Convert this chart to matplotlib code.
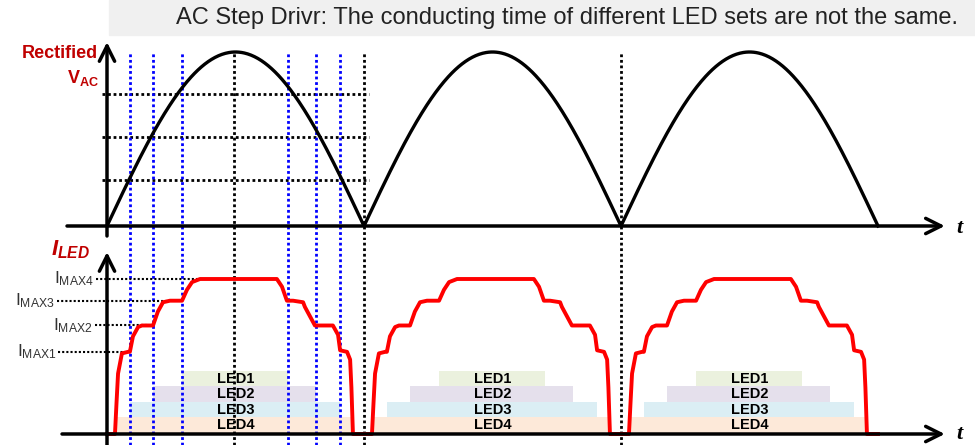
import numpy as np
import matplotlib.pyplot as plt
from matplotlib.patches import Rectangle

plt.rcParams['font.family'] = ['Liberation Sans', 'DejaVu Sans']
plt.rcParams['mathtext.fontset'] = 'custom'
plt.rcParams['mathtext.rm'] = 'Liberation Sans'
plt.rcParams['mathtext.bf'] = 'Liberation Sans:bold'
plt.rcParams['mathtext.it'] = 'Liberation Sans:italic:bold'

DARK_RED = '#C00000'

# time in ms (half period of the mains = 10 ms)
half_period = 10.0
cycle_starts = [0.0, 10.0, 20.0]

# rectified voltage thresholds (fraction of peak) where a new LED set turns on
v_levels = [0.264, 0.511, 0.759]
# switching instants in the first half cycle (blue) and peak / zero-crossings (black)
t_switch = [0.89, 1.79, 2.92, 7.04, 8.13, 9.07]
t_marks = [4.94, 10.0, 20.0]

# LED current over one half cycle (fraction of I_MAX4)
shape_t = [0, 0.31, 0.37, 0.43, 0.58, 0.82, 0.89, 1.01, 1.21, 1.36, 1.79,
           1.98, 2.18, 2.45, 2.92, 3.11, 3.31, 3.62, 6.61, 6.81, 7.00, 7.24,
           7.63, 7.70, 8.09, 8.79, 8.99, 9.07, 9.34, 9.46, 9.51, 9.57, 10.0]
shape_i = [0, 0, 0.2, 0.39, 0.52, 0.53, 0.53, 0.63, 0.69, 0.70, 0.70,
           0.79, 0.85, 0.86, 0.86, 0.93, 0.98, 1.0, 1.0, 0.95, 0.86, 0.86,
           0.85, 0.82, 0.70, 0.70, 0.64, 0.54, 0.53, 0.48, 0.3, 0, 0]

imax_names = ['MAX1', 'MAX2', 'MAX3', 'MAX4']
imax_levels = [0.53, 0.70, 0.86, 1.0]
imax_label_x = [-1.98, -0.58, -2.02, -0.51]
imax_line_x = [(-1.9, 0.7), (-0.47, 1.6), (-1.95, 2.33), (-0.43, 3.9)]

# LED conduction windows inside each half cycle
led_names = ['LED1', 'LED2', 'LED3', 'LED4']
led_on = [(2.92, 7.04), (1.79, 8.13), (0.89, 9.07), (0.39, 9.51)]
led_rows = [(0.31, 0.406), (0.206, 0.31), (0.11, 0.206), (0.0, 0.11)]
led_colors = ['#EBF1DE', '#E5E0EC', '#DBEEF4', '#FDE9D9']

fig = plt.figure(figsize=(9.75, 4.45), dpi=100)
xlim = (-107 / 25.7, 868 / 25.7)
ax_v = fig.add_axes([0, 1 - 240 / 445, 1, 205 / 445])
ax_i = fig.add_axes([0, 0, 1, 205 / 445])
ax_v.set_xlim(xlim)
ax_i.set_xlim(xlim)
ax_v.set_ylim(-0.0805, 1.0977)
ax_i.set_ylim(-0.071, 1.2516)
for ax in (ax_v, ax_i):
    ax.axis('off')

# title box
fig.patches.append(Rectangle((109 / 975, 1 - 35 / 445), 866 / 975, 35 / 445,
                             transform=fig.transFigure, color='#F0F0F0', zorder=0))
fig.text(0.582, 1 - 18 / 445,
         'AC Step Drivr: The conducting time of different LED sets are not the same.',
         ha='center', va='center', fontsize=17, color='#222222')

# ---- top: rectified V_AC ----
t = np.linspace(0, 30, 900)
v = np.abs(np.sin(np.pi * t / half_period))
ax_v.plot(t, v, color='black', lw=2.4, zorder=4)

dot = (0, (1, 1))
for lv in v_levels:
    ax_v.hlines(lv, -0.19, 10.2, colors='black', lw=2, linestyles=dot, zorder=2)
ax_v.vlines(t_switch, ax_v.get_ylim()[0], 1.0, colors='blue', lw=2, linestyles=dot, zorder=2)
ax_v.vlines(t_marks, ax_v.get_ylim()[0], 1.0, colors='black', lw=2, linestyles=dot, zorder=2)

arrow = dict(arrowstyle='->,head_length=1.1,head_width=0.55', lw=2.5, color='black',
             shrinkA=0, shrinkB=0)
ax_v.annotate('', xy=(32.6, 0), xytext=(-1.556, 0), arrowprops=arrow, zorder=5)
ax_v.annotate('', xy=(0, 1.057), xytext=(0, -0.0575), arrowprops=arrow, zorder=5)
ax_v.text(33.15, -0.01, 't', fontsize=16, style='italic', fontweight='bold',
          family='Liberation Serif', ha='center', va='center')
ax_v.text(-0.36, 0.994, 'Rectified', color=DARK_RED, fontsize=13, fontweight='bold',
          ha='right', va='center')
ax_v.text(-0.33, 0.85, r'$\mathbf{V_{AC}}$', color=DARK_RED, fontsize=13,
          ha='right', va='center')

# ---- bottom: LED current ----
for c in cycle_starts:
    for name, (t0, t1), (y0, y1), col in zip(led_names, led_on, led_rows, led_colors):
        ax_i.add_patch(Rectangle((c + t0, y0), t1 - t0, y1 - y0, color=col, lw=0, zorder=1))
        ax_i.text(c + 5.0, (y0 + y1) / 2, name, fontsize=10.5, fontweight='bold',
                  ha='center', va='center', zorder=6)

ax_i.vlines(t_switch, *ax_i.get_ylim(), colors='blue', lw=2, linestyles=dot, zorder=2)
ax_i.vlines(t_marks, *ax_i.get_ylim(), colors='black', lw=2, linestyles=dot, zorder=2)

for name, lv, lx, (x0, x1) in zip(imax_names, imax_levels, imax_label_x, imax_line_x):
    ax_i.hlines(lv, x0, x1, colors='black', lw=1.5, linestyles=(0, (1, 1)), zorder=2)
    ax_i.text(lx, lv, r'$\mathrm{I_{%s}}$' % name, fontsize=12.5, color='#333333',
              ha='right', va='center')

cur_t = np.concatenate([np.array(shape_t) + c for c in cycle_starts])
cur_i = np.concatenate([shape_i for _ in cycle_starts])
ax_i.plot(cur_t, cur_i, color='red', lw=2.8, solid_joinstyle='round', zorder=4)

ax_i.annotate('', xy=(32.6, 0), xytext=(-1.75, 0), arrowprops=arrow, zorder=5)
ax_i.annotate('', xy=(0, 1.174), xytext=(0, -0.071), arrowprops=arrow, zorder=5)
ax_i.text(33.15, 0.0, 't', fontsize=16, style='italic', fontweight='bold',
          family='Liberation Serif', ha='center', va='center')
ax_i.text(-0.66, 1.19, r'$\mathit{I_{LED}}$', color=DARK_RED, fontsize=16,
          ha='right', va='center')

fig.savefig('out.png', dpi=100)
